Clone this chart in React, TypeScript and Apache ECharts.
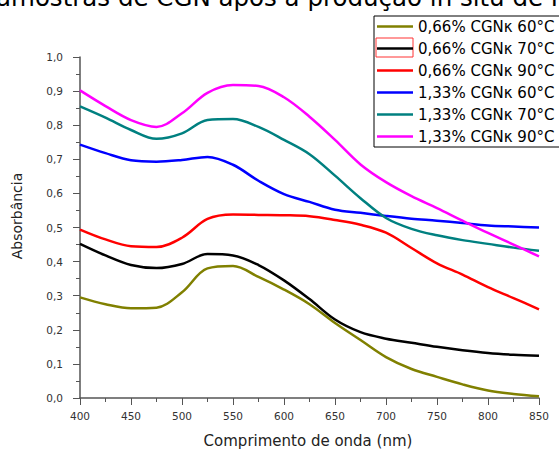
import React, { useEffect, useRef } from "react";
import * as echarts from "echarts";

const wavelengths = [400, 425, 450, 475, 500, 525, 550, 575, 600, 625, 650, 675, 700, 725, 750, 775, 800, 825, 850];

const seriesNames = [
  "0,66% CGNκ 60°C",
  "0,66% CGNκ 70°C",
  "0,66% CGNκ 90°C",
  "1,33% CGNκ 60°C",
  "1,33% CGNκ 70°C",
  "1,33% CGNκ 90°C",
];

const olive60 = [0.295, 0.275, 0.263, 0.265, 0.31, 0.38, 0.387, 0.355, 0.318, 0.275, 0.22, 0.17, 0.12, 0.085, 0.062, 0.04, 0.022, 0.012, 0.005];
const black70 = [0.452, 0.418, 0.39, 0.381, 0.393, 0.422, 0.418, 0.39, 0.345, 0.29, 0.23, 0.193, 0.174, 0.162, 0.15, 0.14, 0.132, 0.127, 0.124];
const red90 = [0.494, 0.465, 0.445, 0.443, 0.47, 0.525, 0.538, 0.537, 0.536, 0.533, 0.522, 0.508, 0.485, 0.44, 0.395, 0.362, 0.325, 0.293, 0.26];
const blue60 = [0.743, 0.718, 0.697, 0.693, 0.698, 0.707, 0.684, 0.637, 0.598, 0.575, 0.552, 0.543, 0.534, 0.526, 0.52, 0.513, 0.506, 0.503, 0.5];
const teal70 = [0.855, 0.822, 0.786, 0.76, 0.776, 0.815, 0.818, 0.795, 0.757, 0.715, 0.652, 0.586, 0.528, 0.496, 0.477, 0.463, 0.452, 0.441, 0.432];
const magenta90 = [0.902, 0.856, 0.815, 0.795, 0.835, 0.895, 0.918, 0.915, 0.882, 0.825, 0.757, 0.685, 0.633, 0.592, 0.557, 0.52, 0.484, 0.45, 0.415];

const seriesValues = [olive60, black70, red90, blue60, teal70, magenta90];
const colors = ["#808000", "#000000", "#ff0000", "#0000ff", "#008080", "#ff00ff"];

const titleText = "amostras de CGN após a produção in situ de NPs";
const xTitle = "Comprimento de onda (nm)";
const yTitle = "Absorbância";

const FONT = "'DejaVu Sans', Verdana, sans-serif";

export default function App() {
  const ref = useRef<HTMLDivElement>(null);
  useEffect(() => {
    if (!ref.current) return;
    const chart = echarts.init(ref.current, null, { renderer: "svg" });
    chart.setOption({
      animation: false,
      backgroundColor: "#ffffff",
      textStyle: { fontFamily: FONT },
      grid: { left: 80, right: 20, top: 57, bottom: 52 },
      legend: {
        left: 374,
        top: 16,
        orient: "vertical",
        selectedMode: false,
        borderColor: "#000",
        borderWidth: 1,
        padding: [3, 10, 3, 3],
        itemGap: 7,
        itemWidth: 36,
        itemHeight: 14,
        icon: "path://M0,0L36,0L36,2.5L0,2.5Z",
        textStyle: { fontSize: 15, color: "#000", fontFamily: FONT, lineHeight: 14 },
        data: seriesNames,
      },
      xAxis: {
        type: "value",
        min: 400,
        max: 850,
        interval: 50,
        axisLine: { show: true, lineStyle: { color: "#555", width: 1.5 } },
        axisTick: { show: true, length: 7, lineStyle: { color: "#555" } },
        minorTick: { show: true, splitNumber: 2, length: 4, lineStyle: { color: "#555" } },
        splitLine: { show: false },
        axisLabel: { fontSize: 10.5, color: "#333", margin: 12, fontFamily: FONT },
      },
      yAxis: {
        type: "value",
        min: 0,
        max: 1.0,
        interval: 0.1,
        axisLine: { show: true, lineStyle: { color: "#555", width: 1.5 } },
        axisTick: { show: true, length: 7, lineStyle: { color: "#555" } },
        minorTick: { show: true, splitNumber: 2, length: 4, lineStyle: { color: "#555" } },
        splitLine: { show: false },
        axisLabel: {
          fontSize: 10.5,
          color: "#333",
          margin: 17,
          fontFamily: FONT,
          formatter: (v: number) => v.toFixed(1).replace(".", ","),
        },
      },
      series: seriesNames.map((name, i) => ({
        name,
        type: "line",
        smooth: 0.35,
        symbol: "none",
        color: colors[i],
        lineStyle: { width: 2.5, color: colors[i] },
        data: wavelengths.map((w, j) => [w, seriesValues[i][j]]),
      })),
      graphic: [
        {
          type: "text",
          x: -4,
          y: -15,
          style: { text: titleText, fontSize: 24.5, fontFamily: FONT, fill: "#000", verticalAlign: "top" },
        },
        {
          type: "text",
          x: 308,
          y: 441,
          style: { text: xTitle, fontSize: 15, fontFamily: FONT, fill: "#222", align: "center", verticalAlign: "middle" },
        },
        {
          type: "text",
          x: 17,
          y: 216,
          rotation: Math.PI / 2,
          style: { text: yTitle, fontSize: 14, fontFamily: FONT, fill: "#222", align: "center", verticalAlign: "middle" },
        },
        {
          type: "rect",
          shape: { x: 376, y: 38, width: 37, height: 19 },
          style: { fill: "none", stroke: "#ff3333", lineWidth: 1 },
        },
      ],
    });
    return () => chart.dispose();
  }, []);
  return <div ref={ref} style={{ position: "absolute", left: 0, top: 0, width: 559, height: 450 }} />;
}
